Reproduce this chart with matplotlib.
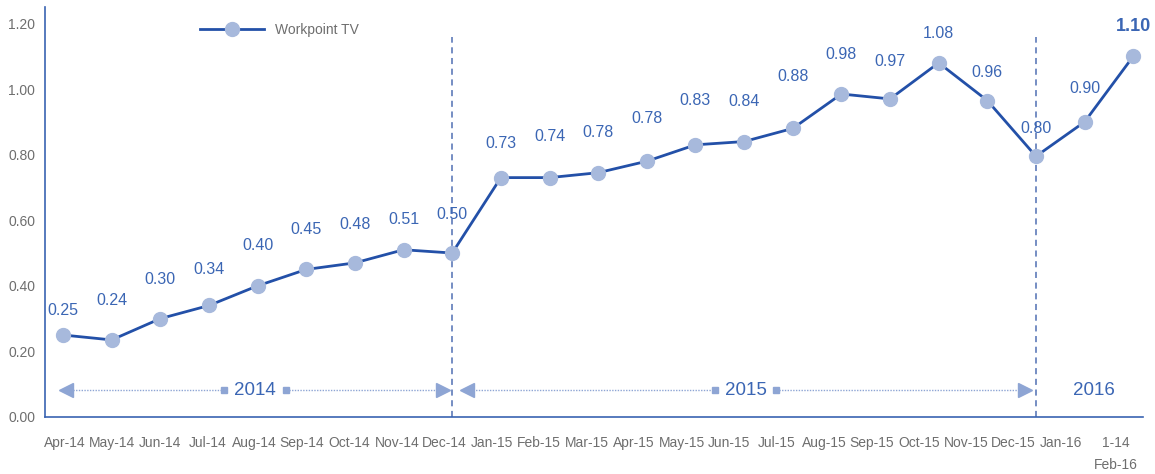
#!/usr/bin/env python3
# -*- coding: utf-8 -*-

import numpy as np
import matplotlib
matplotlib.use("Agg")
import matplotlib.pyplot as plt

plt.rcParams["font.family"] = ["Liberation Sans", "DejaVu Sans"]

# ====== Data ======
months = [
    "Apr-14", "May-14", "Jun-14", "Jul-14", "Aug-14", "Sep-14", "Oct-14",
    "Nov-14", "Dec-14", "Jan-15", "Feb-15", "Mar-15", "Apr-15", "May-15",
    "Jun-15", "Jul-15", "Aug-15", "Sep-15", "Oct-15", "Nov-15", "Dec-15",
    "Jan-16", "1-14\nFeb-16",
]
# plotted positions (as drawn in the source chart)
workpoint = [
    0.25, 0.235, 0.30, 0.34, 0.40, 0.45, 0.47, 0.51, 0.50,
    0.73, 0.73, 0.745, 0.78, 0.83, 0.84, 0.88, 0.985, 0.97, 1.08, 0.965, 0.795,
    0.90, 1.10,
]
# printed value labels
value_labels = [
    "0.25", "0.24", "0.30", "0.34", "0.40", "0.45", "0.48", "0.51", "0.50",
    "0.73", "0.74", "0.78", "0.78", "0.83", "0.84", "0.88", "0.98", "0.97",
    "1.08", "0.96", "0.80", "0.90", "1.10",
]
year_labels = ["2014", "2015", "2016"]
year_breaks = [8, 20]          # index of the month where a year ends
y_ticks = [0.0, 0.2, 0.4, 0.6, 0.8, 1.0, 1.2]

# label offsets above the markers (pixels)
label_dy = [25, 39, 39, 36, 40, 40, 38, 30, 39, 34, 41, 40, 43, 44, 40, 52,
            40, 37, 29, 28, 28, 33, 30]

LINE = "#2350a8"
MARK = "#a7b9dc"
TXT = "#3b66b4"
ARROW = "#8ea5d4"
GREY = "#6e6e6e"

fig = plt.figure(figsize=(11.55, 4.74), dpi=100)
ax = fig.add_axes([0.039, 0.1203, 0.9506, 0.8647])

x = np.arange(len(workpoint))
ax.plot(x, workpoint, "-o", color=LINE, lw=2.0, markersize=10,
        markerfacecolor=MARK, markeredgecolor=MARK, label="Workpoint TV",
        zorder=3)

# --- value labels ---
for i, (v, lab) in enumerate(zip(workpoint, value_labels)):
    last = i == len(workpoint) - 1
    ax.annotate(lab, (i, v), xytext=(0, label_dy[i] * 0.72),
                textcoords="offset points", ha="center", va="center",
                color=TXT, fontsize=13 if last else 11.5,
                fontweight="bold" if last else "normal", zorder=4)

# --- year separators ---
for b in year_breaks:
    ax.plot([b, b], [0, 1.16], ls=(0, (4, 3)), color="#4f6fb3", lw=1.1,
            zorder=1)

# --- year span arrows ---
ya = 0.082
spans = [(-0.06, year_breaks[0] - 0.05),
         (year_breaks[0] + 0.17, year_breaks[1] - 0.1)]
for (a, b), lab in zip(spans, year_labels[:2]):
    mid = (a + b) / 2
    gap = 0.63
    ax.plot([a + 0.2, mid - gap], [ya, ya], ls=(0, (1, 1)), color=ARROW, lw=1.0)
    ax.plot([mid + gap, b - 0.2], [ya, ya], ls=(0, (1, 1)), color=ARROW, lw=1.0)
    ax.plot([a + 0.13], [ya], marker="<", color=ARROW, markersize=10, ls="none")
    ax.plot([b - 0.13], [ya], marker=">", color=ARROW, markersize=10, ls="none")
    ax.plot([mid - gap, mid + gap], [ya, ya], marker="s", color=ARROW,
            markersize=4, ls="none")
    ax.text(mid, ya, lab, ha="center", va="center", color=TXT, fontsize=13.5)
ax.text(21.2, ya, year_labels[2], ha="center", va="center", color=TXT,
        fontsize=13.5)

# --- axes ---
ax.set_xlim(-0.37, 22.2)
ax.set_ylim(0, 1.25)
ax.set_yticks(y_ticks, [f"{t:.2f}" for t in y_ticks])
tick_pos = 0.04 + 0.975 * x
tick_pos[-1] += 0.15
ax.set_xticks(tick_pos, months)
ax.tick_params(axis="both", length=0, labelsize=10, labelcolor=GREY)
ax.tick_params(axis="x", pad=14)
ax.tick_params(axis="y", pad=7)
for lbl in ax.get_xticklabels():
    lbl.set_verticalalignment("top")
    lbl.set_linespacing(1.7)

for s in ["top", "right"]:
    ax.spines[s].set_visible(False)
for s in ["left", "bottom"]:
    ax.spines[s].set_color("#3a63b2")
    ax.spines[s].set_linewidth(1.2)

leg = ax.legend(loc="center left", bbox_to_anchor=(0.13, 0.944),
                frameon=False, handlelength=4.6, fontsize=10)
for t in leg.get_texts():
    t.set_color(GREY)

fig.savefig("out.png", dpi=100)
plt.close(fig)
